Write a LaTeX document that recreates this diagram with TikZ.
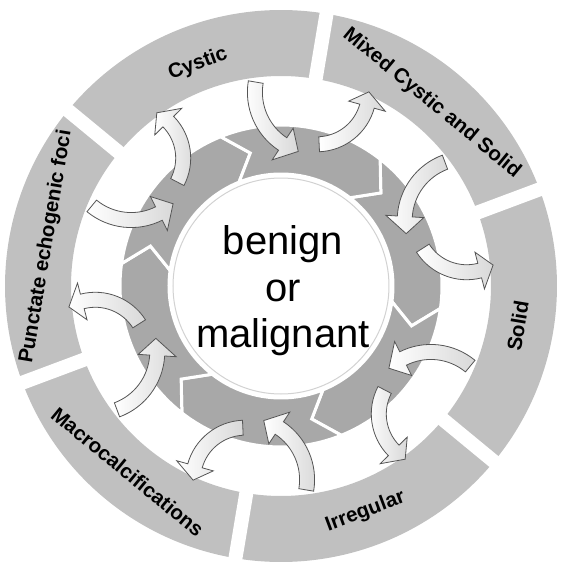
\documentclass[tikz,border=0pt]{standalone}
\usepackage{fontspec}
\setmainfont{Liberation Sans}
\definecolor{outerc}{RGB}{192,192,192}
\definecolor{innerc}{RGB}{168,168,168}
\definecolor{arrowline}{RGB}{85,85,85}
\begin{document}
\begin{tikzpicture}[x=1pt,y=1pt,
  chev/.style={fill=innerc, draw=white, line width=3pt, line join=miter},
  carrow/.style={draw=arrowline, line width=0.8pt, left color=white, right color=gray!30},
  lab/.style={font=\bfseries\fontsize{20.5}{24}\selectfont, text=black, inner sep=0pt},
  centretext/.style={font=\fontsize{40}{46.5}\selectfont, align=center, inner sep=0pt}]
\useasboundingbox (-281,-282) rectangle (283,286);
% outer segments
\foreach \k in {0,...,5}{
  \pgfmathsetmacro\segA{140.5-60*\k}
  \pgfmathsetmacro\segB{80.5-60*\k}
  \fill[outerc] (\segB:210) arc[start angle=\segB, end angle=\segA, radius=210] -- (\segA:276) arc[start angle=\segA, end angle=\segB, radius=276] -- cycle;
}
\foreach \k in {0,...,5}{
  \pgfmathsetmacro\segB{80.5-60*\k}
  \draw[white, line width=14pt] (\segB:200) -- (\segB:290);
}
% inner chevrons
\foreach \k in {0,...,5}{
  \pgfmathsetmacro\chS{52-60*\k}
  \pgfmathsetmacro\chE{\chS-60}
  \pgfmathsetmacro\chSp{\chS-9}
  \pgfmathsetmacro\chEp{\chE-9}
  \draw[chev] (\chS:161) arc[start angle=\chS, end angle=\chE, radius=161] -- (\chEp:136.5) -- (\chE:112) arc[start angle=\chE, end angle=\chS, radius=112] -- (\chSp:136.5) -- cycle;
}
\node[circle, fill=white, draw=gray!35, line width=1pt, minimum size=216pt, inner sep=0pt] (core) at (0,0) {};
\node[centretext] (title) at (2,-5) {benign\\or\\malignant};
% labels
\node[lab, rotate=20.5] (l0) at (110.5:237) {Cystic};
\node[lab, rotate=-39.5] (l1) at (50.5:237) {Mixed Cystic and Solid};
\node[lab, rotate=80.5] (l2) at (-9.5:240) {Solid};
\node[lab, rotate=20.5] (l3) at (-69.5:241) {Irregular};
\node[lab, rotate=-39.5] (l4) at (-129.5:241) {Macrocalcifications};
\node[lab, rotate=80.5] (l5) at (170.5:238) {Punctate echogenic foci};
% curved arrows
\foreach \k in {0,...,5}{
  \pgfmathsetmacro\g{80.5-60*\k}
  \pgfmathsetmacro\cang{\g-1}
  \pgfmathsetmacro\aA{\g+90}
  \pgfmathsetmacro\aB{\g+156}
  \pgfmathsetmacro\aC{\g+172}
  \pgfmathsetmacro\bA{\g+192}
  \pgfmathsetmacro\bB{\g+264}
  \pgfmathsetmacro\bC{\g+280}
  \begin{scope}[shift={(\cang:197)}]
    \draw[carrow] (\aA:69.5) arc[start angle=\aA, end angle=\aB, radius=69.5] -- (\aB:81) -- (\aC:62) -- (\aB:43) -- (\aB:54.5) arc[start angle=\aB, end angle=\aA, radius=54.5] -- cycle;
    \draw[carrow] (\bA:59.5) arc[start angle=\bA, end angle=\bB, radius=59.5] -- (\bB:71) -- (\bC:52) -- (\bB:33) -- (\bB:44.5) arc[start angle=\bB, end angle=\bA, radius=44.5] -- cycle;
  \end{scope}
}
\end{tikzpicture}
\end{document}
